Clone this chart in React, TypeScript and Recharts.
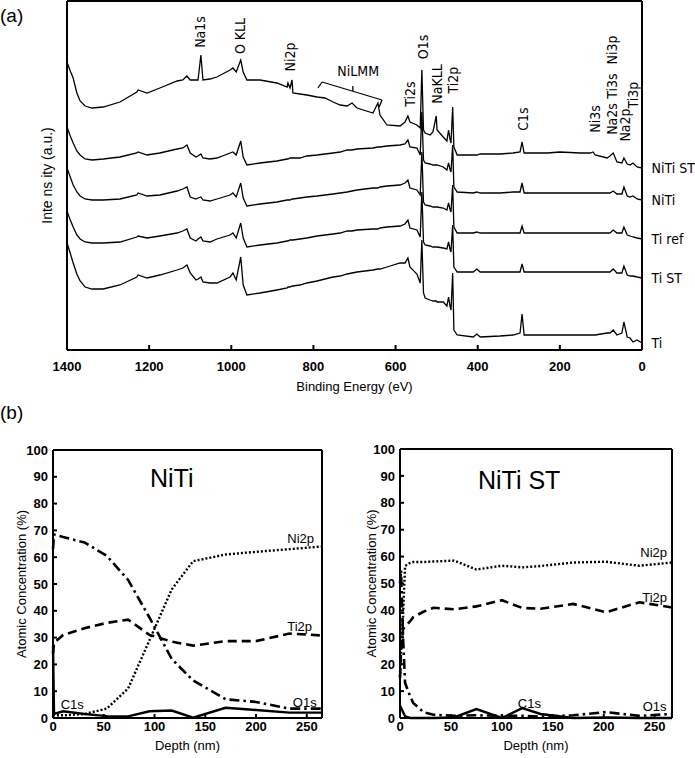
import React from "react";
import { LineChart, Line, XAxis, YAxis, ReferenceDot, ReferenceLine } from "recharts";

// (a) survey spectra, binding energy in eV
const energy = [
  1400, 1393, 1385, 1376, 1368, 1356, 1339, 1312, 1271, 1230,
  1227, 1205, 1174, 1132, 1118, 1108, 1100, 1086, 1081, 1074,
  1069, 1052, 1035, 1003, 996, 988, 977, 971, 962, 930,
  889, 864, 862, 857, 852, 850, 833, 816, 791, 772,
  752, 735, 718, 706, 694, 655, 643, 638, 621, 589,
  577, 570, 565, 548, 540, 536, 532, 528, 516, 509,
  501, 499, 484, 475, 471, 467, 465, 461, 458, 450,
  411, 402, 394, 346, 314, 297, 292, 287, 231, 200,
  151, 126, 119, 114, 85, 78, 70, 61, 49, 44,
  36, 29, 22, 12, 0,
];
// intensities (a.u., curves stacked with offsets)
const niTiSt = [
  288, 280, 272, 257, 249, 244, 242, 243, 248, 258,
  260, 257, 262, 269, 270, 274, 270, 270, 270, 295,
  270, 271, 273, 280, 282, 278, 290, 278, 270, 270,
  267, 263, 267, 262, 270, 257, 256, 255, 253, 252,
  248, 245, 244, 247, 242, 237, 247, 235, 225, 224,
  228, 234, 228, 225, 222, 280, 220, 217, 215, 218,
  234, 220, 213, 209, 220, 210, 207, 243, 203, 195,
  195, 195, 196, 196, 197, 198, 208, 197, 197, 198,
  197, 197, 198, 195, 192, 194, 197, 188, 187, 192,
  186, 185, 187, 183, 182,
];
const niTi = [
  223, 215, 207, 199, 195, 191, 190, 191, 193, 197,
  198, 195, 197, 201, 202, 205, 197, 193, 194, 196,
  192, 191, 192, 197, 198, 195, 209, 193, 185, 187,
  189, 191, 191, 192, 192, 192, 192, 194, 195, 196,
  197, 198, 200, 200, 201, 202, 203, 203, 204, 205,
  206, 210, 203, 202, 195, 238, 190, 187, 186, 185,
  185, 185, 183, 180, 187, 180, 178, 205, 163, 158,
  157, 158, 157, 157, 158, 158, 167, 157, 157, 157,
  157, 157, 157, 157, 157, 157, 159, 156, 156, 163,
  154, 153, 154, 151, 150,
];
const tiRef = [
  182, 174, 165, 158, 154, 151, 150, 150, 151, 155,
  157, 154, 155, 159, 161, 163, 153, 151, 152, 153,
  150, 149, 151, 155, 157, 153, 167, 152, 144, 146,
  148, 150, 150, 150, 151, 151, 152, 153, 154, 155,
  156, 157, 158, 159, 160, 162, 162, 163, 164, 165,
  167, 170, 162, 160, 155, 198, 148, 145, 144, 143,
  143, 143, 142, 140, 147, 140, 138, 165, 123, 117,
  117, 118, 117, 117, 117, 117, 124, 117, 117, 117,
  117, 117, 117, 117, 117, 117, 120, 117, 117, 123,
  115, 114, 113, 112, 111,
];
const tiSt = [
  139, 131, 123, 115, 111, 108, 107, 107, 108, 113,
  114, 112, 114, 117, 119, 121, 112, 109, 111, 113,
  109, 108, 111, 115, 117, 112, 127, 112, 103, 105,
  107, 109, 109, 110, 110, 110, 111, 112, 114, 115,
  116, 117, 119, 119, 120, 121, 121, 122, 123, 124,
  126, 130, 122, 120, 113, 158, 108, 105, 104, 103,
  103, 103, 102, 101, 108, 100, 98, 125, 83, 78,
  78, 81, 78, 78, 78, 78, 86, 78, 78, 78,
  78, 78, 78, 78, 78, 78, 81, 77, 77, 84,
  75, 74, 74, 73, 72,
];
const ti = [
  107, 98, 87, 76, 69, 63, 61, 61, 65, 73,
  75, 72, 75, 80, 82, 85, 77, 70, 71, 73,
  68, 67, 67, 73, 77, 70, 93, 65, 55, 57,
  60, 62, 63, 63, 64, 64, 65, 67, 69, 71,
  73, 74, 76, 77, 78, 80, 81, 81, 83, 87,
  87, 92, 83, 76, 67, 110, 57, 52, 50, 49,
  49, 48, 48, 44, 53, 43, 40, 77, 20, 15,
  13, 16, 13, 14, 15, 17, 36, 15, 15, 15,
  15, 15, 15, 15, 17, 17, 20, 15, 17, 28,
  13, 12, 8, 10, 7,
];
const sampleNames = ["NiTi ST", "NiTi", "Ti ref", "Ti ST", "Ti"];
const energyTicks = [1400, 1200, 1000, 800, 600, 400, 200, 0];
const intensityTicks = [0, 41.7, 83.3, 125, 166.7, 208.3, 250, 291.7, 333.3];

// peak labels
const peakNames = ["Na1s", "O KLL", "Ni2p", "Ti2s", "O1s", "NaKLL", "Ti2p", "C1s", "Ni3s", "Na2s", "Ti3s", "Ni3p", "Na2p", "Ti3p"];
const peakEnergies = [1076, 979, 857, 565, 533, 499, 460, 290, 114, 73, 73, 73, 41, 22];
const peakLabelLevels = [318, 314, 293, 256, 303, 266, 270, 231, 231, 231, 264, 300, 225, 255];
// NiLMM bracket
const bracketE = [789, 779, 633, 640];
const bracketV = [262, 268, 250, 243];

// (b) depth profiles
const niTiDepth = [0, 1, 10, 31, 53, 74, 95, 117, 138, 170, 200, 233, 265];
const niTiC1s = [27, 1.5, 2.5, 1.5, 0.7, 0.6, 2.5, 2.8, 0.1, 3.8, 3, 2, 2];
const niTiO1s = [63, 68.5, 67.5, 65.5, 60.5, 51.5, 37.5, 22, 14, 7, 6, 3.5, 3.5];
const niTiTi2p = [24, 28, 31, 33.5, 35.5, 36.7, 31, 28.5, 27, 28.7, 28.7, 31.5, 30.8];
const niTiNi2p = [1, 1, 1, 1.5, 3.5, 11, 29, 48, 58.5, 61, 62, 63, 64];

const niTiStDepth = [0, 1, 3, 5, 10, 13, 23, 33, 53, 75, 100, 120, 138, 170, 202, 235, 267];
const niTiStC1s = [4.5, 3.8, 2.2, 0.6, 0, 0, 0, 0, 0.2, 3.3, 0, 3.7, 1.5, 0, 0.2, 0, 0];
const niTiStO1s = [50, 55, 30, 13, 8, 5.6, 2.2, 1.2, 0.8, 1, 0.8, 0.8, 0.5, 1, 2.2, 0.8, 1.5];
const niTiStTi2p = [15, 25, 33, 34, 36, 37.5, 39.5, 41, 40.4, 41.5, 43.8, 40.9, 40.6, 42.4, 39.3, 43, 41.1];
const niTiStNi2p = [15, 25, 38, 56.5, 57.7, 58, 58, 58.2, 58.5, 55.2, 56.6, 56, 56.5, 57.8, 58.1, 56.6, 57.8];

const depthTicks = [0, 50, 100, 150, 200, 250];
const concTicks = [0, 10, 20, 30, 40, 50, 60, 70, 80, 90, 100];

const FONT = "'Liberation Sans', Arial, Helvetica, sans-serif";
const NARROW = "'Liberation Sans Narrow', 'DejaVu Sans Condensed', 'Liberation Sans', sans-serif";
const tickStyle = { fill: "#000", fontSize: 13, fontWeight: 700 };

const SurveyChart = () => {
  const curves = [niTiSt, niTi, tiRef, tiSt, ti];
  const rows = energy.map((e, i) => {
    const row: Record<string, number> = { e };
    curves.forEach((c, k) => (row["s" + k] = c[i]));
    return row;
  });

  return (
    <LineChart width={695} height={400} data={rows} margin={{ top: 0, right: 52, bottom: 0, left: 66 }}>
      <XAxis
        dataKey="e" type="number" domain={[0, 1400]} reversed ticks={energyTicks} interval={0}
        height={50} stroke="#000" strokeWidth={2} tickSize={-5} tickMargin={17} tick={tickStyle}
        label={{ value: "Binding Energy (eV)", position: "insideBottom", offset: 9, fill: "#000", fontSize: 13 }}
      />
      <XAxis
        xAxisId="top" orientation="top" dataKey="e" type="number" domain={[0, 1400]} reversed
        ticks={energyTicks} interval={0} height={1} stroke="#000" strokeWidth={2} tickSize={-5} tick={false}
      />
      <YAxis
        type="number" domain={[0, 349]} ticks={intensityTicks} interval={0} width={1}
        stroke="#000" strokeWidth={2} tickSize={-5} tick={false}
        label={{ value: "Inte ns ity (a.u.)", angle: -90, position: "left", offset: 19, fill: "#000", fontSize: 14, style: { textAnchor: "middle" } }}
      />
      <YAxis
        yAxisId="right" orientation="right" type="number" domain={[0, 349]} ticks={intensityTicks}
        interval={0} width={1} stroke="#000" strokeWidth={2} tickSize={-5} tick={false}
      />
      {curves.map((_, k) => (
        <Line key={k} dataKey={"s" + k} type="linear" stroke="#000" strokeWidth={1.3} dot={false} isAnimationActive={false} />
      ))}
      {curves.map((c, k) => (
        <ReferenceDot
          key={"n" + k} x={0} y={c[c.length - 1]} r={0.5} fill="none" stroke="none" ifOverflow="visible"
          label={{ value: sampleNames[k], position: "right", offset: 9, fill: "#000", fontSize: 14, fontFamily: NARROW }}
        />
      ))}
      {peakNames.map((p, i) => (
        <ReferenceDot
          key={p + i} x={peakEnergies[i]} y={peakLabelLevels[i]} r={0.5} fill="none" stroke="none" ifOverflow="visible"
          label={{ value: p, angle: -90, position: "center", fill: "#000", fontSize: 14, fontFamily: NARROW }}
        />
      ))}
      <ReferenceDot
        x={691} y={279} r={0.5} fill="none" stroke="none" ifOverflow="visible"
        label={{ value: "NiLMM", position: "center", fill: "#000", fontSize: 14, fontFamily: NARROW }}
      />
      {bracketE.slice(1).map((e, i) => (
        <ReferenceLine
          key={"b" + i} ifOverflow="visible" stroke="#000" strokeWidth={1.3}
          segment={[{ x: bracketE[i], y: bracketV[i] }, { x: e, y: bracketV[i + 1] }]}
        />
      ))}
      <ReferenceLine
        ifOverflow="visible" stroke="#000" strokeWidth={1.3}
        segment={[{ x: 704, y: 259 }, { x: 704, y: 264 }]}
      />
    </LineChart>
  );
};

interface ProfileProps {
  width: number;
  margin: { top: number; right: number; bottom: number; left: number };
  title: string;
  titleAt: [number, number];
  depth: number[];
  c1s: number[];
  o1s: number[];
  ti2p: number[];
  ni2p: number[];
  xMax: number;
  labelAt: Record<string, [number, number]>;
  yLabelOffset: number;
}

const DepthProfile = ({ width, margin, title, titleAt, depth, c1s, o1s, ti2p, ni2p, xMax, labelAt, yLabelOffset }: ProfileProps) => {
  const rows = depth.map((d, i) => ({ d, c1s: c1s[i], o1s: o1s[i], ti2p: ti2p[i], ni2p: ni2p[i] }));
  return (
    <LineChart width={width} height={328} data={rows} margin={margin}>
      <XAxis
        dataKey="d" type="number" domain={[0, xMax]} ticks={depthTicks} interval={0} height={40}
        stroke="#000" strokeWidth={2} tickSize={-4} tickMargin={8} tick={tickStyle}
        label={{ value: "Depth (nm)", position: "insideBottom", offset: 8, fill: "#000", fontSize: 13 }}
      />
      <XAxis
        xAxisId="top" orientation="top" dataKey="d" type="number" domain={[0, xMax]} ticks={depthTicks}
        interval={0} height={1} stroke="#000" strokeWidth={2} tickSize={-4} tick={false}
      />
      <YAxis
        type="number" domain={[0, 100]} ticks={concTicks} interval={0} width={1}
        stroke="#000" strokeWidth={2} tickSize={-4} tickMargin={9} tick={tickStyle}
        label={{ value: "Atomic Concentration (%)", angle: -90, position: "left", offset: yLabelOffset, fill: "#000", fontSize: 13, style: { textAnchor: "middle" } }}
      />
      <YAxis
        yAxisId="right" orientation="right" type="number" domain={[0, 100]} ticks={concTicks}
        interval={0} width={1} stroke="#000" strokeWidth={2} tickSize={-4} tick={false}
      />
      <Line dataKey="c1s" type="linear" stroke="#000" strokeWidth={2.4} dot={false} isAnimationActive={false} />
      <Line dataKey="o1s" type="linear" stroke="#000" strokeWidth={2.6} strokeDasharray="10 4 2.5 4" dot={false} isAnimationActive={false} />
      <Line dataKey="ti2p" type="linear" stroke="#000" strokeWidth={2.6} strokeDasharray="9 5" dot={false} isAnimationActive={false} />
      <Line dataKey="ni2p" type="linear" stroke="#000" strokeWidth={2.4} strokeDasharray="2 2" dot={false} isAnimationActive={false} />
      <ReferenceDot
        x={titleAt[0]} y={titleAt[1]} r={0.5} fill="none" stroke="none" ifOverflow="visible"
        label={{ value: title, position: "center", fill: "#000", fontSize: 25 }}
      />
      {Object.keys(labelAt).map((k) => (
        <ReferenceDot
          key={k} x={labelAt[k][0]} y={labelAt[k][1]} r={0.5} fill="none" stroke="none" ifOverflow="visible"
          label={{ value: k, position: "center", fill: "#000", fontSize: 13 }}
        />
      ))}
    </LineChart>
  );
};

const panelLetter: React.CSSProperties = { position: "absolute", left: 0, fontSize: 19, color: "#000" };

export default function App() {
  return (
    <div style={{ position: "absolute", left: 0, top: 0, width: 695, height: 758, background: "#fff", fontFamily: FONT }}>
      <div style={{ position: "absolute", left: 0, top: 0 }}>
        <SurveyChart />
      </div>
      <div style={{ ...panelLetter, top: 5 }}>(a)</div>
      <div style={{ ...panelLetter, top: 402 }}>(b)</div>
      <div style={{ position: "absolute", left: 0, top: 430 }}>
        <DepthProfile
          width={345} margin={{ top: 19, right: 22, bottom: 0, left: 52 }}
          title="NiTi" titleAt={[117, 89.5]} xMax={265}
          depth={niTiDepth} c1s={niTiC1s} o1s={niTiO1s} ti2p={niTiTi2p} ni2p={niTiNi2p}
          labelAt={{ Ni2p: [244, 67], Ti2p: [243, 34.2], O1s: [248, 6], C1s: [19, 4.9] }}
          yLabelOffset={31}
        />
      </div>
      <div style={{ position: "absolute", left: 347, top: 430 }}>
        <DepthProfile
          width={348} margin={{ top: 18, right: 22, bottom: 0, left: 52 }}
          title="NiTi ST" titleAt={[117, 88.5]} xMax={267}
          depth={niTiStDepth} c1s={niTiStC1s} o1s={niTiStO1s} ti2p={niTiStTi2p} ni2p={niTiStNi2p}
          labelAt={{ Ni2p: [249, 61.7], Ti2p: [250, 45], O1s: [250, 4.5], C1s: [127, 5.6] }}
          yLabelOffset={28}
        />
      </div>
    </div>
  );
}
